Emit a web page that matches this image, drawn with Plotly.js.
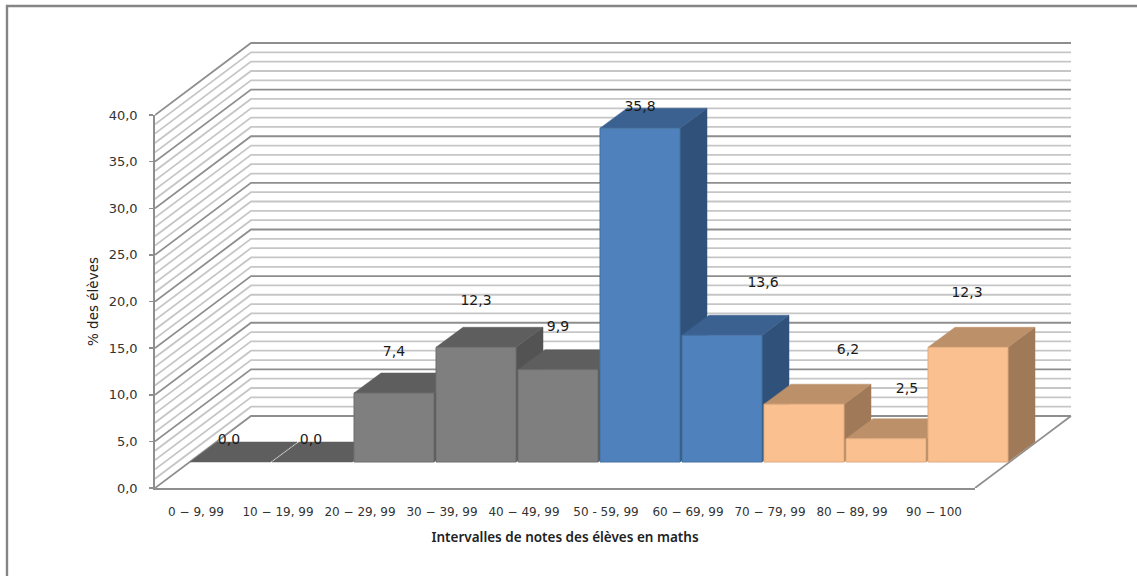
<!DOCTYPE html>
<html><head><meta charset="utf-8">
<script src="https://cdn.plot.ly/plotly-3.0.1.min.js"></script>
<style>html,body{margin:0;padding:0;background:#fff}</style></head>
<body><div id="chart" style="width:1137px;height:576px"></div>
<script>
// ---- data ----
const categories = ["0 − 9, 99","10 − 19, 99","20 − 29, 99","30 − 39, 99","40 − 49, 99","50 - 59, 99","60 − 69, 99","70 − 79, 99","80 − 89, 99","90 − 100"];
const values = [0,0,7.4,12.3,9.9,35.8,13.6,6.2,2.5,12.3];
const valueLabels = ["0,0","0,0","7,4","12,3","9,9","35,8","13,6","6,2","2,5","12,3"];
const yTicks = [0,5,10,15,20,25,30,35,40];
const yTickLabels = ["0,0","5,0","10,0","15,0","20,0","25,0","30,0","35,0","40,0"];
const colourGroup = [0,0,0,0,0,1,1,2,2,2];
// ---- styling and layout (pixels) ----
const W=1137,H=576;
const X0=155,Y0=488,PX=82,PY=9.325;
const wallDX=96/PX, wallDY=72/PY;        // full depth of the box
const barOffX=35/PX, barOffY=26/PY;      // front plane of the bars
const barDX=27/PX, barDY=20/PY;          // depth of a bar
const barW=80/PX;
const palette=[
 {front:"#7f7f7f",top:"#5e5e5e",side:"#535353",edge:"#6e6e6e"},
 {front:"#4f81bd",top:"#3b6191",side:"#30517a",edge:"#44709f"},
 {front:"#fbc08f",top:"#bc9068",side:"#a07a58",edge:"#e0ac80"}];
const labelShiftX=[-1,-1,0,0,0,0,41,44,21,-1];
const labelShiftY=[21,21,40,46,42,21,52,54,49,54];

const traces=[];
// invisible trace holding the primary axes
traces.push({type:"scatter",mode:"markers",x:categories.map((c,i)=>i+0.5),y:values,marker:{opacity:0},xaxis:"x",yaxis:"y",showlegend:false});
// grid on walls
const minorX=[],minorY=[],majorX=[],majorY=[];
for(let v=0;v<=40;v++){
  const xs=(v%5===0)?majorX:minorX, ys=(v%5===0)?majorY:minorY;
  xs.push(0,wallDX,10+wallDX,null); ys.push(v,v+wallDY,v+wallDY,null);
}
traces.push({mode:"lines",x:minorX,y:minorY,line:{color:"#c6c6c6",width:1.8},xaxis:"x2",yaxis:"y2",showlegend:false});
traces.push({mode:"lines",x:majorX,y:majorY,line:{color:"#8e8e8e",width:1.8},xaxis:"x2",yaxis:"y2",showlegend:false});
// floor edge on the right
traces.push({mode:"lines",x:[10,10+wallDX],y:[0,wallDY],line:{color:"#8e8e8e",width:1.8},xaxis:"x2",yaxis:"y2",showlegend:false});
function poly(xs,ys,fill,edge){
  traces.push({mode:"lines",x:xs.concat(xs[0]),y:ys.concat(ys[0]),fill:"toself",fillcolor:fill,line:{color:edge||fill,width:edge?1:0.5},xaxis:"x2",yaxis:"y2",showlegend:false});
}
values.forEach((v,i)=>{
  const c=palette[colourGroup[i]];
  const l=i+barOffX, r=l+barW, b=barOffY, t=barOffY+v;
  poly([r,r+barDX,r+barDX,r],[b,b+barDY,t+barDY,t],c.side);
  poly([l,r,r+barDX,l+barDX],[t,t,t+barDY,t+barDY],c.top);
  if(v>0) poly([l,r,r,l],[b,b,t,t],c.front,c.edge);
});
// data labels
traces.push({mode:"text",text:valueLabels,
  x:values.map((v,i)=>i+barOffX+barW/2+labelShiftX[i]/PX),
  y:values.map((v,i)=>barOffY+v+labelShiftY[i]/PY),
  textposition:"middle center",textfont:{family:"DejaVu Sans",size:14,color:"#1a1a1a"},
  cliponaxis:false,xaxis:"x2",yaxis:"y2",showlegend:false});

const layout={
  width:W,height:H,margin:{l:0,r:0,t:0,b:0,pad:0},showlegend:false,hovermode:false,
  paper_bgcolor:"#fff",plot_bgcolor:"rgba(0,0,0,0)",
  xaxis:{domain:[X0/W,(X0+10*PX)/W],range:[0,10],anchor:"y",tickmode:"array",
    tickvals:categories.map((c,i)=>i+0.5),ticktext:categories,ticks:"",ticklabelstandoff:12,showgrid:false,zeroline:false,
    showline:true,linecolor:"#8e8e8e",linewidth:1.8,tickangle:0,
    tickfont:{family:"DejaVu Sans",size:12,color:"#333"},
    title:{text:"Intervalles de notes des élèves en maths",standoff:14,font:{family:"Noto Sans",size:13.5,color:"#222",weight:600}}},
  yaxis:{domain:[(H-Y0)/H,(H-Y0+40*PY)/H],range:[0,40],anchor:"x",tickmode:"array",
    tickvals:yTicks,ticktext:yTickLabels,ticks:"outside",ticklen:4,tickcolor:"#8e8e8e",tickwidth:1.5,ticklabelstandoff:9,
    showgrid:false,zeroline:false,showline:true,linecolor:"#8e8e8e",linewidth:1.8,
    tickfont:{family:"DejaVu Sans",size:13,color:"#333"},
    title:{text:"% des élèves",standoff:7,font:{family:"DejaVu Sans",size:13.5,color:"#222"}}},
  xaxis2:{domain:[X0/W,(X0+11.32*PX)/W],range:[0,11.32],anchor:"y2",visible:false,fixedrange:true},
  yaxis2:{domain:[(H-Y0)/H,(H-Y0+48*PY)/H],range:[0,48],anchor:"x2",visible:false,fixedrange:true},
  shapes:[{type:"path",xref:"paper",yref:"paper",path:`M ${7/W} 0 L ${7/W} ${(H-6)/H} L 1 ${(H-6)/H}`,line:{color:"#858585",width:2.4},layer:"below"}]
};
Plotly.newPlot("chart",traces,layout,{displayModeBar:false,staticPlot:true});
</script></body></html>
